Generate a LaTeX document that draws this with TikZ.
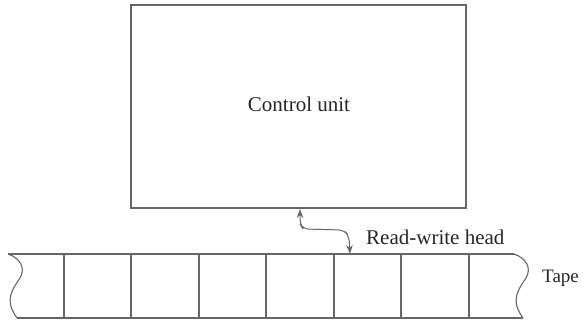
\documentclass[tikz,border=0pt]{standalone}
\usepackage{fontspec}
\setmainfont{Liberation Serif}
\usetikzlibrary{arrows.meta}
\begin{document}
\begin{tikzpicture}[x=1pt,y=-1pt,
  line/.style={draw=black!60,line width=1.1pt},
  lbl/.style={inner sep=0pt,anchor=base west,text=black!85}]
\useasboundingbox (0,0) rectangle (583,321);
% control unit
\node[line,minimum width=335pt,minimum height=203pt,inner sep=0pt] (cu) at (298.5,106.5) {};
\node[inner sep=0pt,font=\fontsize{21}{24}\selectfont,text=black!85] (cutext) at (299,104) {Control unit};
% tape
\coordinate (tl) at (8,254);
\coordinate (tr) at (514,254);
\coordinate (bl) at (17,318);
\coordinate (br) at (523,318);
\draw[line] (tl) -- (tr);
\draw[line] (bl) -- (br);
\draw[line] (tl) .. controls (20,258) and (26,268) .. (20,278) .. controls (12,290) and (4,300) .. (bl);
\draw[line] (tr) .. controls (526,258) and (532,268) .. (526,278) .. controls (518,290) and (510,300) .. (br);
\foreach \x [count=\i] in {64,131,199,266,334,401,469}{
  \coordinate (c\i t) at (\x,254);
  \coordinate (c\i b) at (\x,318);
  \draw[line] (c\i t) -- (c\i b);
}
% read-write head arrow
\coordinate (h1) at (300,209);
\coordinate (h2) at (350,254);
\draw[line,line width=1pt,rounded corners=6pt,{Stealth[length=9pt,width=6.5pt]}-{Stealth[length=9pt,width=6.5pt]}]
  (h1) -- (300,224) -- (303,229) -- (344,230) -- (349,236) -- (h2);
\node[lbl,font=\fontsize{21}{24}\selectfont] (rw) at (366,244) {Read-write head};
\node[lbl,font=\fontsize{19}{22}\selectfont] (tape) at (542,282) {Tape};
\end{tikzpicture}
\end{document}
